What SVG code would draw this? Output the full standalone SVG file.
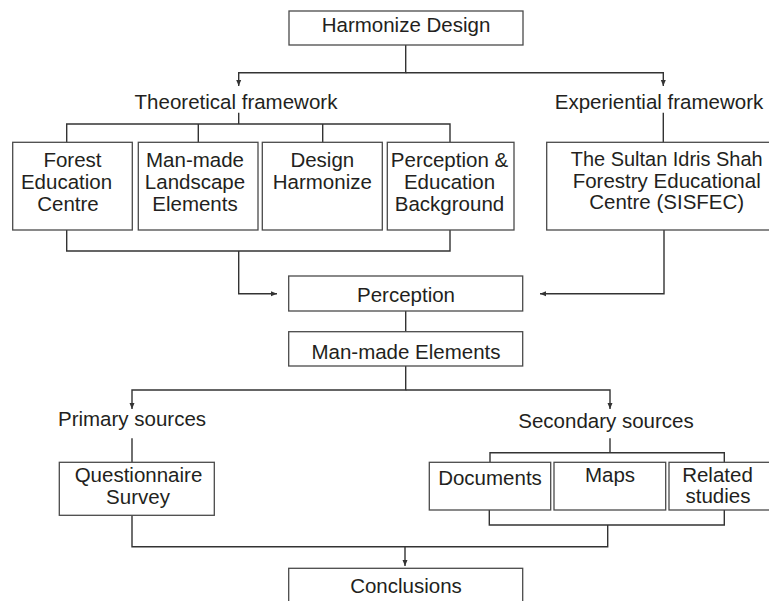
<svg xmlns="http://www.w3.org/2000/svg" width="769" height="601" viewBox="0 0 769 601">
<style>
.box{fill:#fff;stroke:#4a4a4a;stroke-width:1.3}
.t{font-family:"Liberation Sans",Arial,sans-serif;font-size:20.5px;fill:#231f20;text-anchor:middle}
.c{fill:none;stroke:#333;stroke-width:1.4}
.a{marker-end:url(#ah)}
</style>
<defs>
<marker id="ah" markerUnits="userSpaceOnUse" markerWidth="6" markerHeight="6" viewBox="0 0 6 5" refX="6" refY="2.5" orient="auto">
<path d="M0,0 L6,2.5 L0,5 z" fill="#333"/>
</marker>
</defs>
<rect width="769" height="601" fill="#fff"/>
<g id="connectors">
<path class="c a" d="M405.7,45 V72.7 H238.7 V86"/>
<path class="c a" d="M405.7,72.7 H663.3 V86"/>
<path class="c" d="M238.7,112.7 V124"/>
<path class="c" d="M66.7,142.3 V124 H450 V142.3"/>
<path class="c" d="M198.3,124 V142.3"/>
<path class="c" d="M322.7,124 V142.3"/>
<path class="c" d="M663.3,112.7 V142.3"/>
<path class="c" d="M66.7,230 V251 H450 V230"/>
<path class="c a" d="M238.7,251 V293.7 H277"/>
<path class="c a" d="M664,230 V293.7 H540"/>
<path class="c" d="M405.7,311 V331.7"/>
<path class="c a" d="M405.7,366 V390 H132 V409"/>
<path class="c a" d="M405.7,390 H610 V409"/>
<path class="c" d="M132,438.3 V462.3"/>
<path class="c" d="M610,438.3 V452.7"/>
<path class="c" d="M490,462.3 V452.7 H724.3 V462.3"/>
<path class="c" d="M132,515.3 V546.7 H607.7 V525"/>
<path class="c" d="M489.3,510 V525 H724.3 V510"/>
<path class="c a" d="M405,546.7 V566"/>
</g>
<g id="harmonize">
<rect class="box" x="289" y="11" width="234" height="34"/>
<text class="t" x="406" y="32.3">Harmonize Design</text>
</g>
<g id="theoretical">
<text class="t" x="236" y="109">Theoretical framework</text>
</g>
<g id="experiential">
<text class="t" x="659" y="109">Experiential framework</text>
</g>
<g id="forest">
<rect class="box" x="12.7" y="142.3" width="119.6" height="87.7"/>
<text class="t" x="72.5" y="166.5">Forest</text>
<text class="t" x="66.5" y="188.5">Education</text>
<text class="t" x="68" y="210.5">Centre</text>
</g>
<g id="manmade-landscape">
<rect class="box" x="138.3" y="142.3" width="119.7" height="87.7"/>
<text class="t" x="195" y="166.5">Man-made</text>
<text class="t" x="195" y="188.5">Landscape</text>
<text class="t" x="195" y="210.5">Elements</text>
</g>
<g id="design-harmonize">
<rect class="box" x="262.3" y="142.3" width="120" height="87.7"/>
<text class="t" x="322.3" y="166.5">Design</text>
<text class="t" x="322.3" y="188.5">Harmonize</text>
</g>
<g id="perception-education">
<rect class="box" x="387.3" y="142.3" width="126.7" height="87.7"/>
<text class="t" x="449.5" y="166.5">Perception &amp;</text>
<text class="t" x="449.5" y="188.5">Education</text>
<text class="t" x="449.5" y="210.5">Background</text>
</g>
<g id="sisfec">
<rect class="box" x="546.7" y="142.3" width="230" height="87.7"/>
<text class="t" x="666.7" y="166" textLength="192" lengthAdjust="spacingAndGlyphs">The Sultan Idris Shah</text>
<text class="t" x="666.7" y="187.5">Forestry Educational</text>
<text class="t" x="666.7" y="209">Centre (SISFEC)</text>
</g>
<g id="perception">
<rect class="box" x="288.7" y="276" width="234" height="35"/>
<text class="t" x="406" y="301.7">Perception</text>
</g>
<g id="manmade-elements">
<rect class="box" x="288.7" y="331.7" width="234" height="34.3"/>
<text class="t" x="406" y="359.3">Man-made Elements</text>
</g>
<g id="primary">
<text class="t" x="132" y="426">Primary sources</text>
</g>
<g id="secondary">
<text class="t" x="606" y="428">Secondary sources</text>
</g>
<g id="questionnaire">
<rect class="box" x="59.3" y="462.3" width="155" height="53"/>
<text class="t" x="138.5" y="482">Questionnaire</text>
<text class="t" x="138" y="504">Survey</text>
</g>
<g id="documents">
<rect class="box" x="429.3" y="462.3" width="121.4" height="47.7"/>
<text class="t" x="490" y="485">Documents</text>
</g>
<g id="maps">
<rect class="box" x="554" y="462.3" width="111.7" height="47.7"/>
<text class="t" x="610" y="482.3">Maps</text>
</g>
<g id="related">
<rect class="box" x="669" y="462.3" width="110" height="47.7"/>
<text class="t" x="717.5" y="482.3">Related</text>
<text class="t" x="718" y="503.3">studies</text>
</g>
<g id="conclusions">
<rect class="box" x="288.7" y="568.3" width="234" height="40"/>
<text class="t" x="406" y="592.7">Conclusions</text>
</g>
</svg>
